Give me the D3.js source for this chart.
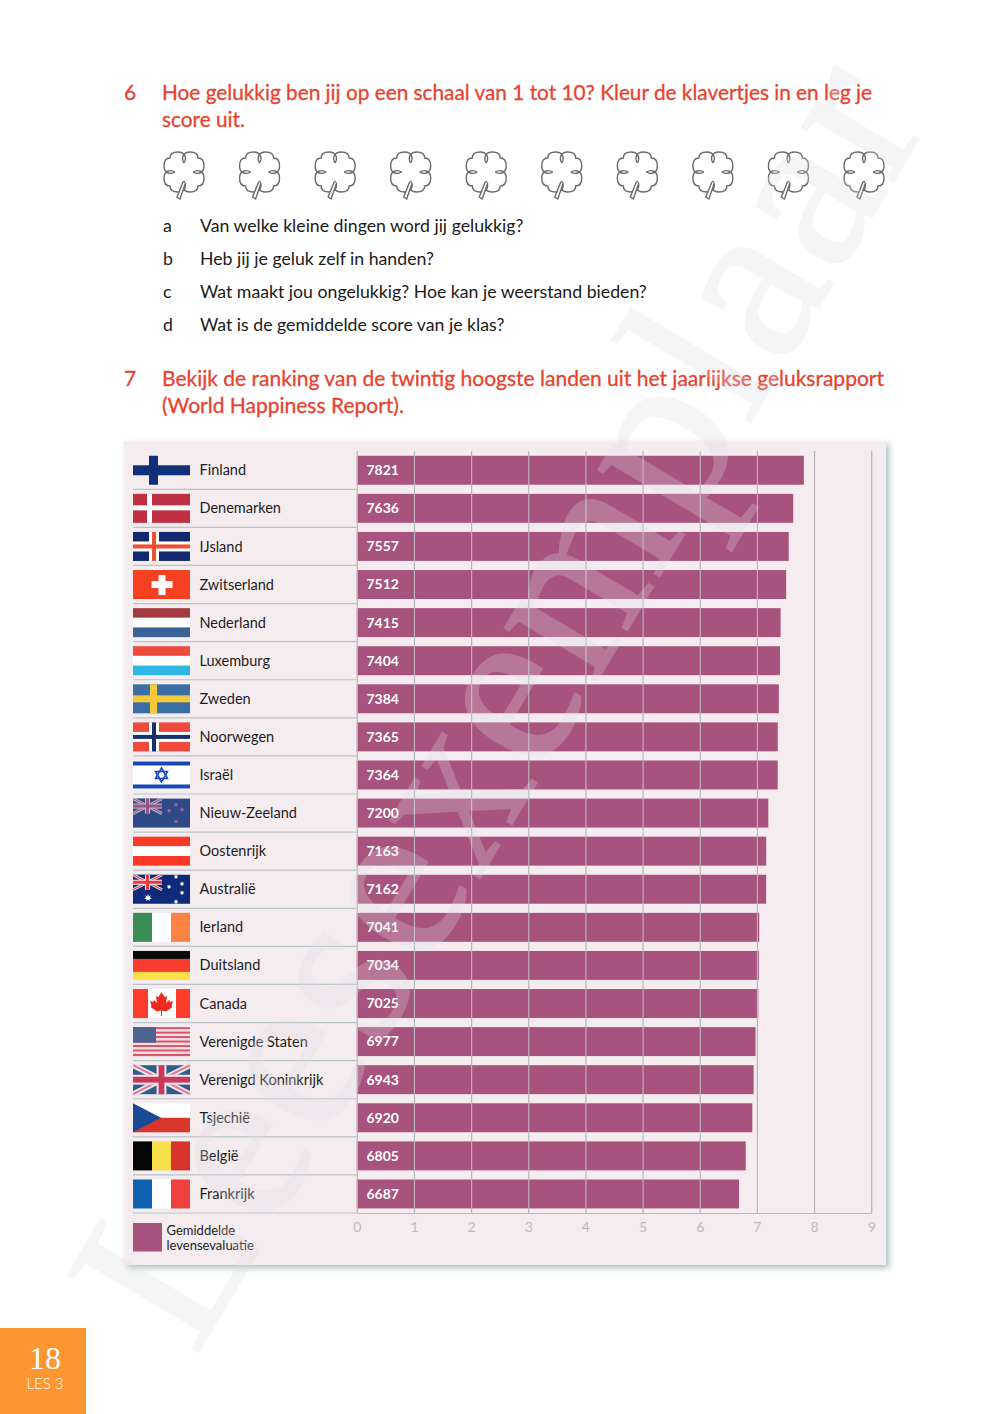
<!DOCTYPE html>
<html>
<head>
<meta charset="utf-8">
<script src="https://cdn.jsdelivr.net/npm/d3@7"></script>
<style>
  html, body { margin: 0; padding: 0; background: #fff; }
  svg { display: block; font-family: Lato, sans-serif; }
</style>
</head>
<body>
<div id="plot"></div>
<script>
  var countries = ["Finland", "Denemarken", "IJsland", "Zwitserland", "Nederland", "Luxemburg", "Zweden", "Noorwegen", "Israël", "Nieuw-Zeeland", "Oostenrijk", "Australië", "Ierland", "Duitsland", "Canada", "Verenigde Staten", "Verenigd Koninkrijk", "Tsjechië", "België", "Frankrijk"];
  var scores = [7821, 7636, 7557, 7512, 7415, 7404, 7384, 7365, 7364, 7200, 7163, 7162, 7041, 7034, 7025, 6977, 6943, 6920, 6805, 6687];
  var axisTicks = [0, 1, 2, 3, 4, 5, 6, 7, 8, 9];
  var cloverScale = [1, 2, 3, 4, 5, 6, 7, 8, 9, 10];
  var question6 = ["Hoe gelukkig ben jij op een schaal van 1 tot 10? Kleur de klavertjes in en leg je", "score uit."];
  var question7 = ["Bekijk de ranking van de twintig hoogste landen uit het jaarlijkse geluksrapport", "(World Happiness Report)."];
  var subLetters = ["a", "b", "c", "d"];
  var subQuestions = ["Van welke kleine dingen word jij gelukkig?", "Heb jij je geluk zelf in handen?", "Wat maakt jou ongelukkig? Hoe kan je weerstand bieden?", "Wat is de gemiddelde score van je klas?"];
  var legendLines = ["Gemiddelde", "levensevaluatie"];

  var svg = d3.select("#plot").append("svg")
    .attr("width", 1000)
    .attr("height", 1414)
    .attr("viewBox", "0 0 1000 1414");

  var defs = svg.append("defs");
  defs.append("filter").attr("id", "shadow")
    .attr("x", "-5%").attr("y", "-5%").attr("width", "110%").attr("height", "110%")
    .append("feDropShadow")
    .attr("dx", 3).attr("dy", 3).attr("stdDeviation", 3)
    .attr("flood-color", "#8fa9ab").attr("flood-opacity", 0.75);

  // questions
  var red = "#e8432f";
  function lines(list, x, y0, step, size, color, heavy) {
    svg.append("g").selectAll("text").data(list).enter().append("text")
      .attr("x", x)
      .attr("y", function(d, i) { return y0 + i * step; })
      .attr("font-size", size)
      .attr("fill", color)
      .attr("stroke", heavy ? color : "none")
      .attr("stroke-width", heavy ? 0.3 : 0)
      .text(function(d) { return d; });
  }
  lines(["6"], 124, 100, 0, 21, red, true);
  lines(question6, 162, 100, 27, 20.8, red, true);
  lines(subLetters, 163, 232, 33, 17.7, "#1a1a1a");
  lines(subQuestions, 200, 232, 33, 17.7, "#1a1a1a");
  lines(["7"], 124, 386, 0, 21, red, true);
  lines(question7, 162, 386, 27, 21, red, true);

  // clovers
  var cloverX = d3.scalePoint().domain(cloverScale).range([184, 864]);
  var lobe = "M0,-9 C-3,-14 -1,-20 6,-20 C11,-20 14,-18 14,-14 C18,-14 20,-11 20,-6 C20,1 14,3 9,0";
  var clover = svg.append("g").selectAll("g").data(cloverScale).enter().append("g")
    .attr("transform", function(d) { return "translate(" + cloverX(d) + ",172)"; })
    .attr("fill", "none").attr("stroke", "#6a6a6a").attr("stroke-width", 1.4);
  [0, 90, 180, 270].forEach(function(r) {
    clover.append("path").attr("d", lobe).attr("transform", "rotate(" + r + ")");
  });
  clover.append("path").attr("d", "M-1,10 L-7,25 L-4,27 L1.5,11").attr("fill", "#fff");

  // panel
  svg.append("rect")
    .attr("x", 124).attr("y", 441).attr("width", 762).attr("height", 824)
    .attr("fill", "#f5ecf0")
    .attr("filter", "url(#shadow)");

  var x = d3.scaleLinear().domain([0, 9]).range([356.8, 871.2]);
  var y = d3.scaleBand().domain(countries).range([451.2, 1213]).paddingInner(0.24).paddingOuter(0.12);
  var step = y.step();

  // row rules
  svg.append("g").selectAll("line").data(countries).enter().append("line")
    .attr("x1", 133).attr("x2", 357)
    .attr("y1", function(d) { return y(d) + y.bandwidth() + (step - y.bandwidth()) / 2; })
    .attr("y2", function(d) { return y(d) + y.bandwidth() + (step - y.bandwidth()) / 2; })
    .attr("stroke", "#b7c3c5")
    .attr("stroke-width", 1.2);

  // bars
  svg.append("g").selectAll("rect").data(scores).enter().append("rect")
    .attr("x", x(0))
    .attr("y", function(d, i) { return y(countries[i]); })
    .attr("width", function(d) { return x(d / 1000) - x(0); })
    .attr("height", y.bandwidth())
    .attr("fill", "#a8527e");

  // axis + grid on top of the bars
  var xAxis = d3.axisBottom(x).tickValues(axisTicks).tickFormat(d3.format("d")).tickSize(0).tickPadding(9);
  var axisG = svg.append("g").attr("transform", "translate(0,1213)").call(xAxis);
  axisG.select(".domain").attr("stroke", "#bdb8bb").attr("stroke-width", 1.2);
  axisG.selectAll(".tick line")
    .attr("y2", -762)
    .attr("stroke", "#b9b4b8")
    .attr("stroke-width", 1.2);
  axisG.selectAll(".tick text")
    .attr("font-family", "Lato, sans-serif")
    .attr("font-size", 14)
    .attr("fill", "#b9bcbc");

  // value labels
  svg.append("g").selectAll("text").data(scores).enter().append("text")
    .attr("x", 366.5)
    .attr("y", function(d, i) { return y(countries[i]) + y.bandwidth() / 2; })
    .attr("dy", "0.35em")
    .attr("font-size", 14)
    .attr("font-weight", 700)
    .attr("fill", "#fff")
    .text(function(d) { return d; });

  // country names
  svg.append("g").selectAll("text").data(countries).enter().append("text")
    .attr("x", 199.5)
    .attr("y", function(d) { return y(d) + y.bandwidth() / 2; })
    .attr("dy", "0.35em")
    .attr("font-size", 14.5)
    .attr("fill", "#1c1c1c")
    .text(function(d) { return d; });

  // flags
  var W = 57, H = 29;
  function rect(g, a, b, w, h, c) {
    g.append("rect").attr("x", a).attr("y", b).attr("width", w).attr("height", h).attr("fill", c);
  }
  function hbands(g, cols) {
    cols.forEach(function(c, i) { rect(g, 0, i * H / cols.length, W, H / cols.length, c); });
  }
  function vbands(g, cols) {
    cols.forEach(function(c, i) { rect(g, i * W / cols.length, 0, W / cols.length, H, c); });
  }
  function nordic(g, bg, cross, inner) {
    rect(g, 0, 0, W, H, bg);
    rect(g, 16, 0, 10, H, cross);
    rect(g, 0, 9.5, W, 10, cross);
    if (inner) {
      rect(g, 19, 0, 4, H, inner);
      rect(g, 0, 12.5, W, 4, inner);
    }
  }
  function poly(g, pts, c) {
    g.append("polygon").attr("points", pts).attr("fill", c);
  }
  function star(g, cx, cy, r, c, n) {
    var pts = d3.range((n || 5) * 2).map(function(i) {
      var a = Math.PI * i / (n || 5) - Math.PI / 2, q = i % 2 ? r * 0.45 : r;
      return (cx + q * Math.cos(a)) + "," + (cy + q * Math.sin(a));
    }).join(" ");
    poly(g, pts, c);
  }
  function jack(g, w, h, blue, diag, cross, op) {
    var j = g.append("g").attr("opacity", op || 1);
    rect(j, 0, 0, w, h, blue);
    j.append("path").attr("d", "M0,0L" + w + "," + h + "M" + w + ",0L0," + h).attr("stroke", "#f3e6ea").attr("stroke-width", h * 0.2);
    j.append("path").attr("d", "M0,0L" + w + "," + h + "M" + w + ",0L0," + h).attr("stroke", diag).attr("stroke-width", h * 0.07);
    rect(j, w / 2 - h * 0.17, 0, h * 0.34, h, "#f3e6ea");
    rect(j, 0, h * 0.33, w, h * 0.34, "#f3e6ea");
    rect(j, w / 2 - h * 0.1, 0, h * 0.2, h, cross);
    rect(j, 0, h * 0.4, w, h * 0.2, cross);
  }

  var flagPainters = {
    "Finland": function(g) { rect(g, 16, 0, 9, H, "#0f2f78"); rect(g, 0, 9.5, W, 10, "#0f2f78"); },
    "Denemarken": function(g) { rect(g, 0, 0, W, H, "#bf3043"); rect(g, 14, 0, 5, H, "#fff"); rect(g, 0, 11.5, W, 5, "#fff"); },
    "IJsland": function(g) { nordic(g, "#12296f", "#fff", "#f04e30"); },
    "Zwitserland": function(g) {
      rect(g, 0, 0, W, H, "#f73f22");
      rect(g, 25.5, 5, 7, 20, "#fff");
      rect(g, 18.5, 11, 21, 7, "#fff");
    },
    "Nederland": function(g) { hbands(g, ["#a23b3f", "#fff", "#3a6298"]); },
    "Luxemburg": function(g) { hbands(g, ["#ef4a3c", "#fff", "#2fb6e4"]); },
    "Zweden": function(g) { rect(g, 0, 0, W, H, "#3a6ea5"); rect(g, 17, 0, 7, H, "#f5c93c"); rect(g, 0, 11, W, 7, "#f5c93c"); },
    "Noorwegen": function(g) { nordic(g, "#ef4a3c", "#fff", "#15306e"); },
    "Israël": function(g) {
      rect(g, 0, 0, W, H, "#fff");
      rect(g, 0, 1, W, 4, "#1a47b8");
      rect(g, 0, 24, W, 4, "#1a47b8");
      [0, 180].forEach(function(r) {
        g.append("polygon").attr("points", "28.5,7.5 34.5,18 22.5,18")
          .attr("transform", "rotate(" + r + " 28.5 14.5)")
          .attr("fill", "none").attr("stroke", "#1a47b8").attr("stroke-width", 1.6);
      });
    },
    "Nieuw-Zeeland": function(g) {
      rect(g, 0, 0, W, H, "#2e4a86");
      jack(g, 29, 15, "#2e4a86", "#c9587a", "#c9587a", 0.7);
      [[43, 6], [36, 12], [49, 11], [43, 23]].forEach(function(p) { star(g, p[0], p[1], 2.6, "#a66a8c"); });
    },
    "Oostenrijk": function(g) { hbands(g, ["#fb3a26", "#fff", "#fb3a26"]); },
    "Australië": function(g) {
      rect(g, 0, 0, W, H, "#0f2a7a");
      jack(g, 29, 15, "#0f2a7a", "#e0383c", "#f0383c");
      star(g, 15, 23, 4, "#fff", 7);
      [[43, 2], [36, 12], [49, 9], [49, 18], [43, 27]].forEach(function(p) { star(g, p[0], p[1], 2.6, "#fff", 7); });
    },
    "Ierland": function(g) { vbands(g, ["#3a8d57", "#fff", "#fb8343"]); },
    "Duitsland": function(g) {
      rect(g, 0, 0, W, 8, "#0a0a0a");
      rect(g, 0, 8, W, 13, "#f93a2e");
      rect(g, 0, 21, W, 8, "#fde047");
    },
    "Canada": function(g) {
      rect(g, 0, 0, W, H, "#fff");
      rect(g, 0, 0, 15, H, "#fc3d2b");
      rect(g, 43, 0, 14, H, "#fc3d2b");
      poly(g, "28.5,3 31.5,8 34,7 33,14 36,11 37,13 40,12 38.5,17 39.5,18 33,22.5 29,21.5 29,27 28,27 28,21.5 24,22.5 17.5,18 18.5,17 17,12 20,13 21,11 24,14 23,7 25.5,8", "#f02a20");
    },
    "Verenigde Staten": function(g) {
      d3.range(13).forEach(function(i) { rect(g, 0, i * H / 13, W, H / 13, i % 2 ? "#f6dfe2" : "#d8566e"); });
      rect(g, 0, 0, 23, 15.6, "#4c648f");
    },
    "Verenigd Koninkrijk": function(g) { jack(g, W, H, "#2f5d8a", "#d77a92", "#c9385a"); },
    "Tsjechië": function(g) {
      rect(g, 0, 0, W, 14.5, "#fff");
      rect(g, 0, 14.5, W, 14.5, "#d9362e");
      poly(g, "0,0 28,14.5 0,29", "#1a4a93");
    },
    "België": function(g) { vbands(g, ["#050505", "#f8e04a", "#d9342b"]); },
    "Frankrijk": function(g) { vbands(g, ["#0f62ae", "#fff", "#f04040"]); }
  };

  var flags = svg.append("g").selectAll("g").data(countries).enter().append("g")
    .attr("transform", function(d) { return "translate(133," + y(d) + ")"; });
  flags.each(function(d) { flagPainters[d](d3.select(this)); });

  // legend
  rect(svg, 133, 1223, 29, 28.5, "#a8527e");
  lines(legendLines, 166.5, 1234.5, 15, 13, "#1c1c1c");

  // page tab
  rect(svg, 0, 1328, 86, 86, "#fd9630");
  svg.append("text").attr("x", 45).attr("y", 1369).attr("text-anchor", "middle")
    .attr("font-family", "'Liberation Serif', serif").attr("font-size", 32).attr("fill", "#fff").text("18");
  svg.append("text").attr("x", 45).attr("y", 1389).attr("text-anchor", "middle")
    .attr("font-weight", 300).attr("font-size", 15).attr("fill", "#fff").text("LES 3");

  // watermark
  svg.append("text")
    .attr("transform", "translate(195,1358) rotate(-59.3)")
    .attr("font-family", "'Liberation Serif', serif")
    .attr("font-size", 232)
    .attr("textLength", 1440)
    .attr("fill", "#dcdce0")
    .attr("stroke", "#dcdce0")
    .attr("stroke-width", 2)
    .attr("opacity", 0.27)
    .text("Leesexemplaar");
</script>
</body>
</html>
